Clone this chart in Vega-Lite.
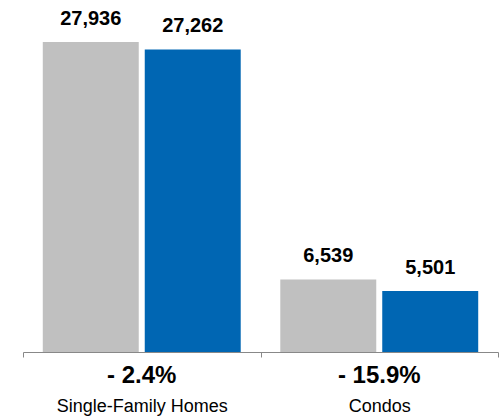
{
  "$schema": "https://vega.github.io/schema/vega-lite/v6.json",
  "autosize": "none",
  "width": 475,
  "height": 352,
  "padding": {"left": 23, "right": 1, "top": 0, "bottom": 64},
  "config": {"view": {"stroke": null}, "font": "Liberation Sans"},
  "datasets": {
    "bars": [
      {"category": "Single-Family Homes", "period": "Prior", "value": 27936},
      {"category": "Single-Family Homes", "period": "Current", "value": 27262},
      {"category": "Condos", "period": "Prior", "value": 6539},
      {"category": "Condos", "period": "Current", "value": 5501}
    ],
    "changes": [
      {"category": "Single-Family Homes", "change": "- 2.4%"},
      {"category": "Condos", "change": "- 15.9%"}
    ]
  },
  "layer": [
    {
      "data": {"name": "bars"},
      "mark": {"type": "bar"},
      "encoding": {
        "x": {
          "field": "category", "type": "nominal",
          "sort": ["Single-Family Homes", "Condos"],
          "scale": {"paddingInner": 0, "paddingOuter": 0},
          "axis": {
            "title": null, "labelAngle": 0, "labelFontSize": 18, "labelColor": "#000",
            "labelPadding": 40, "domainColor": "#888", "tickColor": "#888",
            "tickSize": 5, "tickBand": "extent", "tickExtra": true
          }
        },
        "xOffset": {
          "field": "period", "type": "nominal", "sort": ["Prior", "Current"],
          "scale": {"paddingInner": 0.0588, "paddingOuter": 0.194}
        },
        "y": {
          "field": "value", "type": "quantitative",
          "scale": {"domain": [0, 31720], "nice": false},
          "axis": null
        },
        "color": {
          "field": "period", "type": "nominal",
          "scale": {"domain": ["Prior", "Current"], "range": ["#C0C0C0", "#0066B3"]},
          "legend": null
        }
      }
    },
    {
      "data": {"name": "bars"},
      "mark": {"type": "text", "fontSize": 20, "fontWeight": "bold", "baseline": "alphabetic", "dy": -17, "color": "#000"},
      "encoding": {
        "x": {"field": "category", "type": "nominal", "sort": ["Single-Family Homes", "Condos"]},
        "xOffset": {"field": "period", "type": "nominal", "sort": ["Prior", "Current"]},
        "y": {"field": "value", "type": "quantitative"},
        "text": {"field": "value", "type": "quantitative", "format": ","}
      }
    },
    {
      "data": {"name": "changes"},
      "mark": {"type": "text", "fontSize": 24, "fontWeight": "bold", "baseline": "alphabetic", "dy": 31, "color": "#000"},
      "encoding": {
        "x": {"field": "category", "type": "nominal", "sort": ["Single-Family Homes", "Condos"]},
        "y": {"datum": 0},
        "text": {"field": "change", "type": "nominal"}
      }
    }
  ]
}
